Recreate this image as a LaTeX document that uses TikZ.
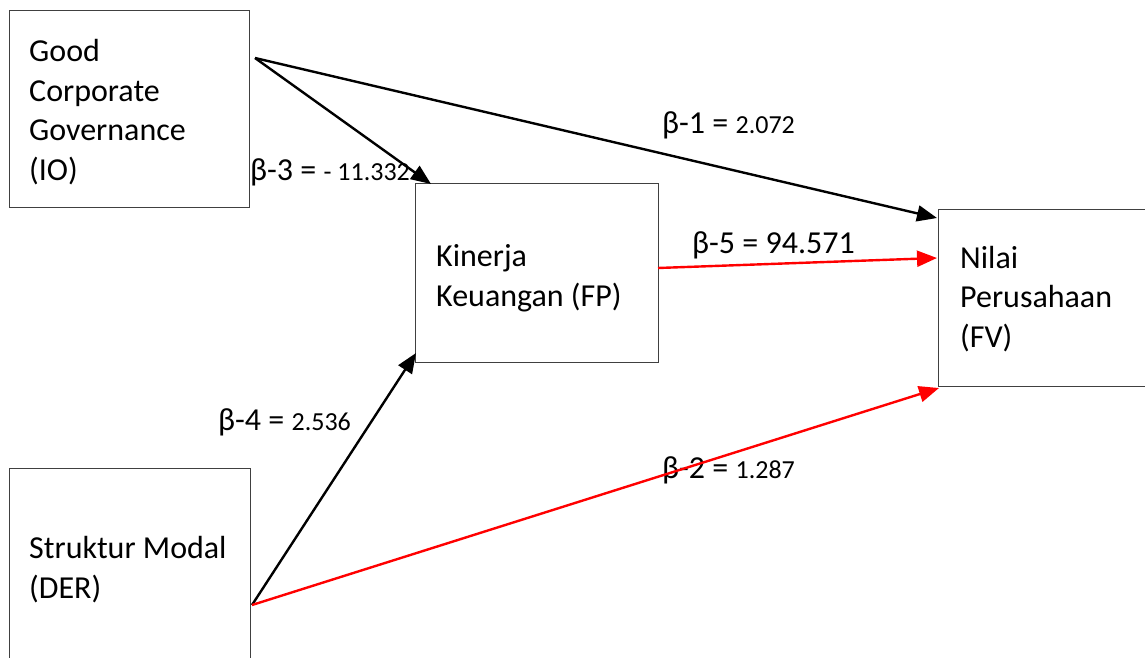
\documentclass[tikz,border=0pt]{standalone}
\usepackage{fontspec}
\setmainfont{Carlito}
\usetikzlibrary{arrows.meta}
\begin{document}
\begin{tikzpicture}[x=1pt,y=-1pt,
  box/.style={draw=black!75,line width=1.3pt,rectangle,inner sep=0pt,anchor=north west},
  txt/.style={anchor=base west,inner sep=0pt,align=left,font=\fontsize{32}{39.5}\selectfont},
  lbl/.style={anchor=base west,inner sep=0pt,font=\fontsize{32}{36}\selectfont},
  sml/.style={font=\fontsize{26}{30}\selectfont},
  conn/.style={line width=2.4pt,-{Triangle[length=20pt,width=16pt]}},
  blk/.style={conn,draw=black},
  rd/.style={conn,draw=red}]
\useasboundingbox (0,0) rectangle (1145,658);
\clip (0,0) rectangle (1145,658);
\node[box,minimum width=240pt,minimum height=197pt] (gcg) at (9,10) {};
\node[box,minimum width=243pt,minimum height=179pt] (kin) at (415,183) {};
\node[box,minimum width=220pt,minimum height=177pt] (nil) at (938,209) {};
\node[box,minimum width=241pt,minimum height=200pt] (str) at (9,468) {};
\node[txt] (tgcg) at (29,180) {Good\\Corporate\\Governance\\(IO)};
\node[txt] (tkin) at (436,306) {Kinerja\\Keuangan (FP)};
\node[txt] (tnil) at (960,347) {Nilai\\Perusahaan\\(FV)};
\node[txt] (tstr) at (29,598) {Struktur Modal\\(DER)};
\node[lbl] (b1) at (662,134) {β-1 = {\fontsize{26}{30}\selectfont 2.072}};
\node[lbl] (b3) at (250,180) {β-3 = {\fontsize{26}{30}\selectfont - 11.332}};
\node[lbl] (b5) at (692,253) {β-5 = 94.571};
\node[lbl] (b4) at (218,430) {β-4 = {\fontsize{26}{30}\selectfont 2.536}};
\node[lbl] (b2) at (662,478) {β-2 = {\fontsize{26}{30}\selectfont 1.287}};
\coordinate (g0) at (255,58);
\coordinate (s0) at (252,605);
\coordinate (k0) at (658,268);
\coordinate (kTL) at (431,184);
\coordinate (kBL) at (416,353);
\coordinate (nA) at (937,218);
\coordinate (nB) at (937,258);
\coordinate (nC) at (939,388);
\draw[blk] (g0) -- (kTL);
\draw[blk] (g0) -- (nA);
\draw[rd] (k0) -- (nB);
\draw[blk] (s0) -- (kBL);
\draw[rd] (s0) -- (nC);
\end{tikzpicture}
\end{document}
